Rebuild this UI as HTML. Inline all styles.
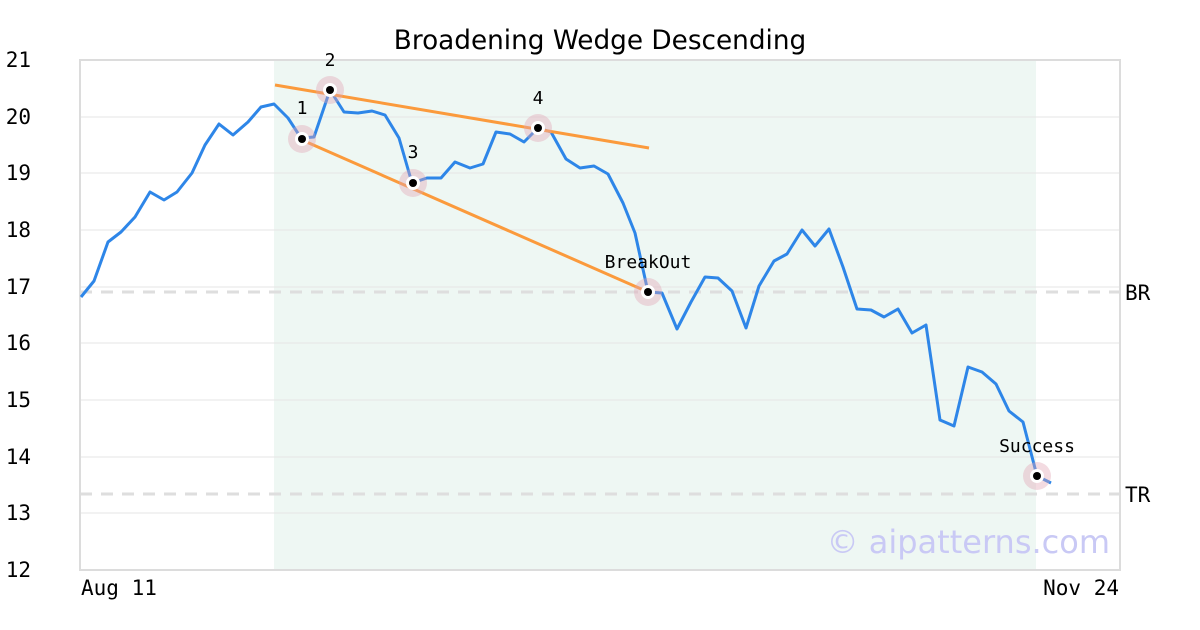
<!DOCTYPE html>
<html><head><meta charset="utf-8"><style>body{margin:0;background:#fff}svg{display:block}</style></head><body>
<svg width="1200" height="630" xmlns="http://www.w3.org/2000/svg" font-family="'DejaVu Sans Mono','Liberation Mono',monospace">
<rect width="1200" height="630" fill="#fff"/>
<rect x="274" y="60" width="762" height="510" fill="#eef7f3"/>
<g stroke="#e6e6e6" stroke-width="1">
<line x1="80" x2="1120" y1="117" y2="117"/><line x1="80" x2="1120" y1="173" y2="173"/><line x1="80" x2="1120" y1="230" y2="230"/><line x1="80" x2="1120" y1="287" y2="287"/><line x1="80" x2="1120" y1="343" y2="343"/><line x1="80" x2="1120" y1="400" y2="400"/><line x1="80" x2="1120" y1="457" y2="457"/><line x1="80" x2="1120" y1="513" y2="513"/>
</g>
<g stroke="#dedede" stroke-width="3" stroke-dasharray="12,9">
<line x1="80" x2="1120" y1="292" y2="292"/><line x1="80" x2="1120" y1="494" y2="494"/>
</g>
<rect x="80" y="60" width="1040" height="510" fill="none" stroke="#dcdcdc" stroke-width="2"/>
<polyline fill="none" stroke="#2e86e8" stroke-width="3" stroke-linejoin="round" points="81,297 94,281 108,242 121,232 135,217 150,192 164,200 177,192 192,173 205,145 219,124 233,135 248,122 261,107 274,104 288,118 301,138 314,137 330,90 344,112 358,113 372,111 385,115 399,138 412,183 427,178 441,178 455,162 470,168 483,164 496,132 510,134 524,142 538,128 551,132 566,159 580,168 594,166 608,174 623,203 635,233 648,292 662,293 677,329 691,302 705,277 718,278 732,291 746,328 759,286 774,261 787,254 802,230 815,246 829,229 843,267 857,309 871,310 884,317 898,309 912,333 926,325 940,420 954,426 968,367 982,372 996,384 1009,411 1023,422 1037,476 1051,483"/>
<g stroke="#fb9a3c" stroke-width="3">
<line x1="275" y1="85" x2="649" y2="148"/><line x1="302" y1="140" x2="648" y2="292"/>
</g>
<g>
<g transform="translate(302,139)"><circle r="14" fill="rgba(225,165,180,0.4)"/><circle r="7" fill="#fff"/><circle r="4" fill="#000"/></g>
<g transform="translate(330,90)"><circle r="14" fill="rgba(225,165,180,0.4)"/><circle r="7" fill="#fff"/><circle r="4" fill="#000"/></g>
<g transform="translate(413,183)"><circle r="14" fill="rgba(225,165,180,0.4)"/><circle r="7" fill="#fff"/><circle r="4" fill="#000"/></g>
<g transform="translate(538,128)"><circle r="14" fill="rgba(225,165,180,0.4)"/><circle r="7" fill="#fff"/><circle r="4" fill="#000"/></g>
<g transform="translate(648,292)"><circle r="14" fill="rgba(225,165,180,0.4)"/><circle r="7" fill="#fff"/><circle r="4" fill="#000"/></g>
<g transform="translate(1037,476)"><circle r="14" fill="rgba(225,165,180,0.4)"/><circle r="7" fill="#fff"/><circle r="4" fill="#000"/></g>
</g>
<g font-size="18" fill="#000" text-anchor="middle">
<text x="302" y="114">1</text><text x="330" y="66">2</text><text x="413" y="158">3</text><text x="538" y="104">4</text><text x="648" y="268">BreakOut</text><text x="1037" y="452">Success</text>
</g>
<text x="600" y="49" font-family="'DejaVu Sans','Liberation Sans',sans-serif" font-size="26.3" text-anchor="middle">Broadening Wedge Descending</text>
<g font-size="21" text-anchor="end" fill="#000">
<text x="31" y="67">21</text><text x="31" y="124">20</text><text x="31" y="180">19</text><text x="31" y="237">18</text><text x="31" y="294">17</text><text x="31" y="350">16</text><text x="31" y="407">15</text><text x="31" y="464">14</text><text x="31" y="520">13</text><text x="31" y="577">12</text>
</g>
<g font-size="21" fill="#000">
<text x="1125" y="300">BR</text><text x="1125" y="502">TR</text>
<text x="81" y="595">Aug 11</text><text x="1119" y="595" text-anchor="end">Nov 24</text>
</g>
<text x="1110" y="553" font-family="'DejaVu Sans','Liberation Sans',sans-serif" font-size="32" fill="#c9c9f5" text-anchor="end">© aipatterns.com</text>
</svg>
</body></html>
